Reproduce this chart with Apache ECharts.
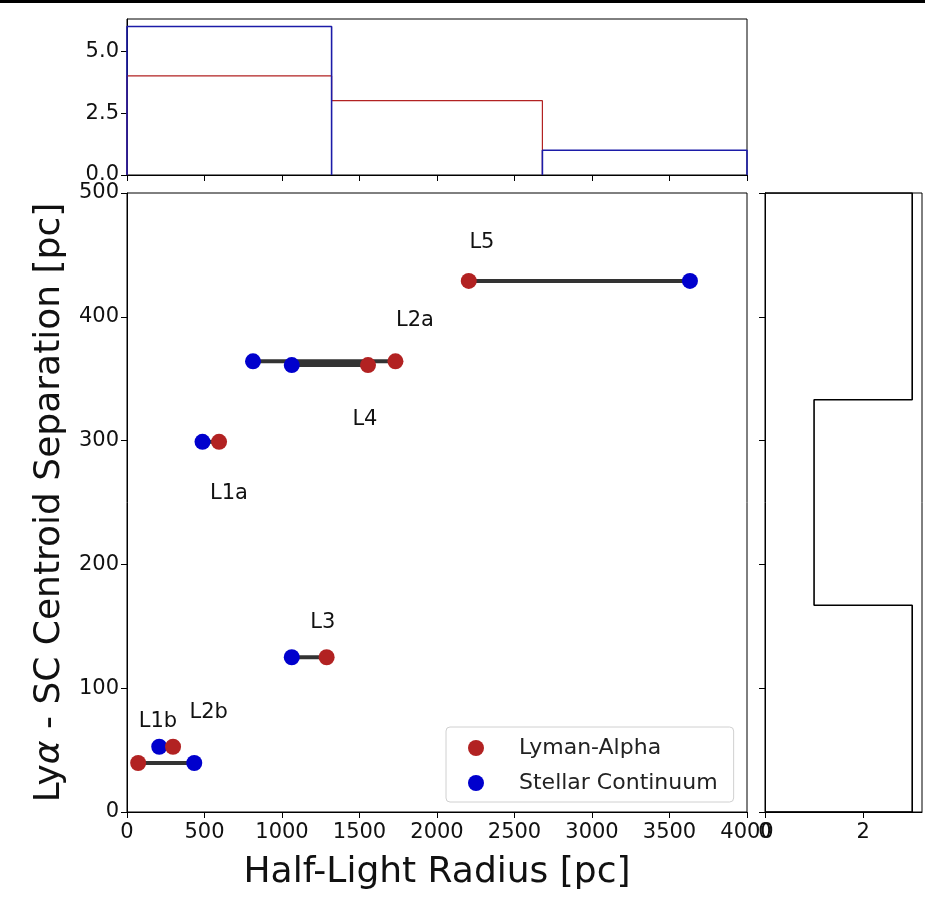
<!DOCTYPE html>
<html>
<head>
<meta charset="utf-8">
<script src="https://cdn.jsdelivr.net/npm/echarts@6/dist/echarts.min.js"></script>
<style>
  html, body { margin: 0; padding: 0; background: #fff; }
  #chart { width: 925px; height: 908px; }
</style>
</head>
<body>
<div id="chart"></div>
<script>
// knots
const names = ['L5', 'L2a', 'L4', 'L1a', 'L3', 'L1b', 'L2b'];
// half-light radius [pc]
const lyaRadius = [2205, 1732, 1555, 594, 1288, 297, 72];
const scRadius = [3632, 813, 1063, 487, 1063, 208, 434];
// Lya - SC centroid separation [pc]
const separation = [429, 364, 361, 299, 125, 52.7, 39.6];
// where each knot name is written (data units)
const labelX = [2290, 1858, 1535, 658, 1263, 200, 527];
const labelY = [460, 397, 317, 257, 153, 73, 80];

// marginal histograms
const radiusEdges = [0, 1320, 2680, 4000];
const lyaCounts = [4, 3, 0];
const scCounts = [6, 0, 1];
const sepEdges = [0, 167, 333, 500];
const sepCounts = [3, 1, 3];

const FONT = 'DejaVu Sans';
const RED = '#b22222';
const BLUE = '#0000cd';

// outline of a step histogram, bins along x.
// empty bins lie on the axis, so they are left out (the spine covers them in the original)
function stepOutline(edges, counts) {
  const pts = [[edges[0], 0]];
  counts.forEach((c, i) => {
    if (c === 0) {
      pts.push([edges[i], 0], [edges[i], '-'], [edges[i + 1], 0]);
    } else {
      pts.push([edges[i], c], [edges[i + 1], c]);
    }
  });
  pts.push([edges[edges.length - 1], 0]);
  return pts;
}
// same, bins along y  -> [count, y]
function stepOutlineY(edges, counts) {
  return stepOutline(edges, counts).map(p => [p[1], p[0]]);
}

var chart = echarts.init(document.getElementById('chart'));

const axisLine = { show: true, lineStyle: { color: '#000', width: 1 } };
const tick = { show: true, inside: false, length: 6, lineStyle: { color: '#000', width: 1 } };
const tickLabel = { fontFamily: FONT, fontSize: 21, color: '#111' };

var connectors = names.map((n, i) => ({
  type: 'line',
  name: 'pair-' + n,
  xAxisIndex: 1,
  yAxisIndex: 1,
  data: [[lyaRadius[i], separation[i]], [scRadius[i], separation[i]]],
  symbol: 'none',
  lineStyle: { color: '#333', width: 4 },
  z: 2,
  silent: true
}));

var option = {
  animation: false,
  backgroundColor: '#fff',
  graphic: [
    { type: 'rect', shape: { x: 0, y: 0, width: 925, height: 3 }, style: { fill: '#000' } }
  ],
  grid: [
    { left: 127, top: 19, width: 620, height: 156, show: true, borderColor: '#000', borderWidth: 1, backgroundColor: '#fff' },
    { left: 127, top: 193, width: 620, height: 619, show: true, borderColor: '#000', borderWidth: 1, backgroundColor: '#fff' },
    { left: 765, top: 193, width: 157, height: 619, show: true, borderColor: '#000', borderWidth: 1, backgroundColor: '#fff' }
  ],
  xAxis: [
    {
      gridIndex: 0, type: 'value', min: 0, max: 4000, interval: 500,
      axisLine: axisLine, axisTick: tick, axisLabel: { show: false }, splitLine: { show: false }
    },
    {
      gridIndex: 1, type: 'value', min: 0, max: 4000, interval: 500,
      axisLine: axisLine, axisTick: tick, splitLine: { show: false },
      axisLabel: Object.assign({ margin: 10, showMaxLabel: true, formatter: v => String(v) }, tickLabel),
      name: 'Half-Light Radius [pc]', nameLocation: 'middle', nameGap: 43,
      nameTextStyle: { fontFamily: FONT, fontSize: 36, color: '#111' }
    },
    {
      gridIndex: 2, type: 'value', min: 0, max: 3.2,
      axisLine: axisLine, splitLine: { show: false },
      axisTick: Object.assign({ customValues: [0, 2] }, tick),
      axisLabel: Object.assign({ margin: 10, customValues: [0, 2] }, tickLabel)
    }
  ],
  yAxis: [
    {
      gridIndex: 0, type: 'value', min: 0, max: 6.3,
      axisLine: axisLine, splitLine: { show: false },
      axisTick: Object.assign({ customValues: [0, 2.5, 5] }, tick),
      axisLabel: Object.assign({ margin: 8, customValues: [0, 2.5, 5], formatter: v => v.toFixed(1) }, tickLabel)
    },
    {
      gridIndex: 1, type: 'value', min: 0, max: 500, interval: 100,
      axisLine: axisLine, axisTick: tick, splitLine: { show: false },
      axisLabel: Object.assign({ margin: 8 }, tickLabel),
      name: 'Ly{i|α} - SC Centroid Separation [pc]', nameLocation: 'middle', nameGap: 58,
      nameTextStyle: {
        fontFamily: FONT, fontSize: 36, color: '#111',
        rich: { i: { fontFamily: FONT, fontSize: 36, fontStyle: 'italic', color: '#111' } }
      }
    },
    {
      gridIndex: 2, type: 'value', min: 0, max: 500, interval: 100,
      axisLine: axisLine, axisTick: tick, axisLabel: { show: false }, splitLine: { show: false }
    }
  ],
  legend: {
    data: ['Lyman-Alpha', 'Stellar Continuum'],
    orient: 'vertical',
    left: 446, top: 727,
    padding: [10, 16, 8, 22],
    itemGap: 13,
    itemWidth: 16, itemHeight: 16,
    icon: 'circle',
    borderColor: '#d0d0d0', borderWidth: 1, borderRadius: 4,
    backgroundColor: 'rgba(255,255,255,0.85)',
    textStyle: { fontFamily: FONT, fontSize: 22, color: '#222', padding: [0, 0, 0, 30] }
  },
  series: connectors.concat([
    {
      type: 'scatter', name: 'Stellar Continuum',
      xAxisIndex: 1, yAxisIndex: 1,
      data: scRadius.map((x, i) => [x, separation[i]]),
      symbolSize: 16, itemStyle: { color: BLUE, opacity: 1 }, z: 3
    },
    {
      type: 'scatter', name: 'Lyman-Alpha',
      xAxisIndex: 1, yAxisIndex: 1,
      data: lyaRadius.map((x, i) => [x, separation[i]]),
      symbolSize: 16, itemStyle: { color: RED, opacity: 1 }, z: 4
    },
    {
      type: 'scatter', name: 'knot names',
      xAxisIndex: 1, yAxisIndex: 1,
      data: names.map((n, i) => ({ name: n, value: [labelX[i], labelY[i]] })),
      symbolSize: 0, silent: true,
      itemStyle: { opacity: 1 },
      label: {
        show: true, position: 'inside', formatter: p => p.name,
        fontFamily: FONT, fontSize: 21, color: '#111', textBorderWidth: 0
      }
    },
    {
      type: 'line', name: 'lya-hist', xAxisIndex: 0, yAxisIndex: 0,
      data: stepOutline(radiusEdges, lyaCounts),
      symbol: 'none', connectNulls: false, lineStyle: { color: RED, width: 1.2 }, z: 2
    },
    {
      type: 'line', name: 'sc-hist', xAxisIndex: 0, yAxisIndex: 0,
      data: stepOutline(radiusEdges, scCounts),
      symbol: 'none', connectNulls: false, lineStyle: { color: '#1c1ca8', width: 1.6 }, z: 3
    },
    {
      type: 'line', name: 'sep-hist', xAxisIndex: 2, yAxisIndex: 2,
      data: stepOutlineY(sepEdges, sepCounts),
      symbol: 'none', lineStyle: { color: '#000', width: 1.6 }, z: 2
    }
  ])
};

option && chart.setOption(option);
</script>
</body>
</html>
